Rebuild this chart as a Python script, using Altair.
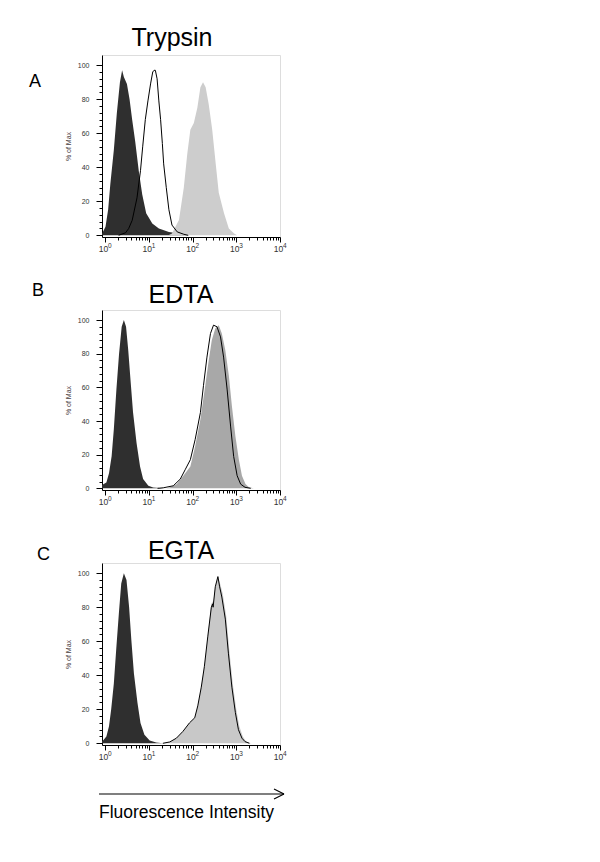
import altair as alt
import pandas as pd

# ---------------- data (x given as log10 decade positions, y = % of Max) ----------------
A_dark_log = [-0.07, -0.05, 0.01, 0.07, 0.12, 0.20, 0.27, 0.34, 0.39, 0.43, 0.50, 0.56, 0.62,
              0.69, 0.77, 0.85, 0.94, 1.08, 1.23, 1.46, 1.69, 1.92]
A_dark_y = [1, 2, 5, 15, 30, 50, 72, 90, 97, 93, 89, 80, 68, 55, 38, 24, 13, 7, 4, 2, 1, 0]

A_open_log = [0.31, 0.47, 0.54, 0.62, 0.73, 0.81, 0.86, 0.92, 0.98, 1.04, 1.09, 1.12, 1.15,
              1.19, 1.23, 1.27, 1.31, 1.34, 1.40, 1.46, 1.53, 1.65, 1.80, 1.90]
A_open_y = [0, 1.5, 4, 8.8, 22, 38, 52, 68, 79, 89, 96, 97, 97, 92, 79, 68, 54, 42, 28, 15, 6, 2, 0.6, 0]

A_light_log = [1.45, 1.53, 1.69, 1.80, 1.88, 1.95, 2.03, 2.11, 2.18, 2.24, 2.30, 2.37, 2.45,
               2.53, 2.60, 2.72, 2.83, 2.95, 3.02]
A_light_y = [0, 1, 9, 28, 48, 62, 66, 75, 87, 90, 87, 77, 62, 42, 25, 13, 4, 1, 0]

B_dark_log = [-0.07, 0.03, 0.09, 0.15, 0.20, 0.26, 0.32, 0.38, 0.43, 0.48, 0.53, 0.58, 0.64,
              0.72, 0.80, 0.87, 0.99, 1.10, 1.33]
B_dark_y = [2, 3.5, 9, 19, 35, 59, 80, 96, 100, 96, 82, 65, 45, 27, 13, 5.5, 1.6, 0.5, 0]

B_grey_log = [1.40, 1.49, 1.64, 1.79, 1.95, 2.06, 2.18, 2.29, 2.37, 2.44, 2.52, 2.60, 2.67,
              2.75, 2.83, 2.90, 2.98, 3.06, 3.13, 3.21, 3.29, 3.40]
B_grey_y = [0, 0.6, 2.5, 7.5, 13, 25, 41, 61, 76, 88, 95, 97, 92, 82, 67, 49, 31, 17, 7.5, 2.5, 0.6, 0]

B_open_log = [1.20, 1.33, 1.56, 1.72, 1.83, 1.95, 2.06, 2.18, 2.25, 2.33, 2.41, 2.48, 2.56,
              2.64, 2.71, 2.79, 2.87, 2.94, 3.02, 3.10, 3.20, 3.33]
B_open_y = [0, 0.3, 1.5, 5.5, 11, 17, 29, 45, 61, 78, 92, 97, 96, 90, 78, 59, 37, 19, 7.5, 2.5, 0.6, 0]

C_dark_log = [-0.07, -0.05, 0.03, 0.09, 0.14, 0.20, 0.26, 0.32, 0.37, 0.43, 0.49, 0.55, 0.60,
              0.66, 0.74, 0.81, 0.90, 1.02, 1.17, 1.32]
C_dark_y = [1.5, 1.5, 4, 10, 20, 35, 57, 78, 94, 100, 96, 80, 61, 41, 24, 12, 5, 1.6, 0.4, 0]

C_grey_log = [1.32, 1.48, 1.63, 1.78, 1.93, 2.05, 2.12, 2.20, 2.27, 2.35, 2.43, 2.48, 2.52,
              2.58, 2.63, 2.69, 2.77, 2.84, 2.92, 3.00, 3.07, 3.15, 3.22, 3.34]
C_grey_y = [0, 0.8, 3, 7, 12, 15, 22, 33, 45, 63, 82, 84, 92, 98, 94, 88, 75, 55, 35, 20, 10, 4, 1.2, 0]

C_open_log = [1.32, 1.48, 1.63, 1.78, 1.93, 2.05, 2.12, 2.20, 2.27, 2.35, 2.43, 2.46, 2.47,
              2.52, 2.58, 2.62, 2.67, 2.75, 2.82, 2.90, 2.98, 3.05, 3.13, 3.20, 3.30]
C_open_y = [0, 0.8, 3, 7, 12, 15, 22, 33, 45, 63, 80, 82, 80, 92, 98, 92, 86, 73, 53, 33, 18, 8, 3, 1, 0]

PANEL_TITLES = ["Trypsin", "EDTA", "EGTA"]
PANEL_LETTERS = ["A", "B", "C"]
X_AXIS_LABEL = "Fluorescence Intensity"
Y_AXIS_LABEL = "% of Max"

X_TICKS = [1, 2, 3, 4, 5, 6, 7, 8, 9,
           10, 20, 30, 40, 50, 60, 70, 80, 90,
           100, 200, 300, 400, 500, 600, 700, 800, 900,
           1000, 2000, 3000, 4000, 5000, 6000, 7000, 8000, 9000, 10000]
DECADES = [1, 10, 100, 1000, 10000]
EXPONENTS = ["0", "1", "2", "3", "4"]
Y_TICKS = [0, 4, 8, 12, 16, 20, 24, 28, 32, 36, 40, 44, 48, 52, 56, 60, 64, 68, 72, 76, 80,
           84, 88, 92, 96, 100]

FONT = "Liberation Sans"
W = 178


def series(logs, ys):
    return pd.DataFrame({"x": [10 ** v for v in logs], "y": ys})


x_major = "datum.value == 1 || datum.value == 10 || datum.value == 100 || datum.value == 1000 || datum.value == 10000"

x_axis = alt.Axis(values=X_TICKS, labelExpr="(" + x_major + ") ? '10' : ''",
                  labelOverlap=False, labelFlush=False, labelOffset=-2,
                  tickSize={"condition": {"test": x_major, "value": 5}, "value": 3},
                  grid=False, title=None, labelFontSize=8.5, labelColor="#333333",
                  labelPadding=2, domainColor="black", tickColor="black")
y_axis = alt.Axis(values=Y_TICKS, labelExpr="datum.value % 20 == 0 ? datum.label : ''",
                  labelOverlap=False, labelFlush=False,
                  tickSize={"condition": {"test": "datum.value % 20 == 0", "value": 6}, "value": 3},
                  grid=False, title=Y_AXIS_LABEL, titleFontSize=7, titleFontWeight="normal",
                  titleColor="#4a3c3c", titlePadding=6, labelFontSize=7, labelColor="#333333",
                  labelPadding=7, domainColor="black", tickColor="black")

x_enc = alt.X("x:Q", scale=alt.Scale(type="log", domain=[0.851, 10000]), axis=x_axis)
y_enc = alt.Y("y:Q", scale=alt.Scale(domain=[-1, 106], nice=False, zero=False), axis=y_axis,
              stack=None)


def area(df, color):
    return alt.Chart(df).mark_area(color=color, clip=True, interpolate="linear",
                                   opacity=1).encode(x=x_enc, y=y_enc, y2=alt.datum(0))


def line(df):
    return alt.Chart(df).mark_line(color="black", strokeWidth=1, clip=True).encode(
        x=x_enc, y=y_enc)


def text_at(t, lx, ly, size, align="left", baseline="middle"):
    return alt.Chart(pd.DataFrame({"t": [t]})).mark_text(
        fontSize=size, font=FONT, align=align, baseline=baseline, color="black").encode(
        text="t:N", x=alt.value(lx), y=alt.value(ly))


def exponents(h):
    df = pd.DataFrame({"x": DECADES, "t": EXPONENTS})
    return alt.Chart(df).mark_text(fontSize=6.5, font=FONT, align="left", baseline="alphabetic",
                                   color="#333333", dx=3).encode(
        x=alt.X("x:Q", scale=alt.Scale(type="log", domain=[0.851, 10000]), axis=x_axis),
        y=alt.value(h + 11), text="t:N")


panel_a = alt.layer(
    area(series(A_dark_log, A_dark_y), "#2f2f2f"),
    area(series(A_light_log, A_light_y), "#cdcdcd"),
    line(series(A_open_log, A_open_y)),
    exponents(182),
    text_at(PANEL_LETTERS[0], -73, 27, 18),
    text_at(PANEL_TITLES[0], 70, -9, 25, align="center", baseline="alphabetic"),
).properties(width=W, height=182)

panel_b = alt.layer(
    area(series(B_dark_log, B_dark_y), "#2f2f2f"),
    area(series(B_grey_log, B_grey_y), "#a8a8a8"),
    line(series(B_open_log, B_open_y)),
    exponents(180),
    text_at(PANEL_LETTERS[1], -70, -19, 18),
    text_at(PANEL_TITLES[1], 79, -7, 25, align="center", baseline="alphabetic"),
).properties(width=W, height=180)

H_C = 182
arrow_y = H_C + 49
arrow = alt.Chart(pd.DataFrame({"k": [0]})).mark_rule(color="black", strokeWidth=1.2).encode(
    x=alt.value(-3), x2=alt.value(182), y=alt.value(arrow_y))
head1 = alt.Chart(pd.DataFrame({"k": [0]})).mark_rule(color="black", strokeWidth=1.2).encode(
    x=alt.value(172), x2=alt.value(182), y=alt.value(arrow_y - 5), y2=alt.value(arrow_y))
head2 = alt.Chart(pd.DataFrame({"k": [0]})).mark_rule(color="black", strokeWidth=1.2).encode(
    x=alt.value(172), x2=alt.value(182), y=alt.value(arrow_y + 5), y2=alt.value(arrow_y))

panel_c = alt.layer(
    area(series(C_dark_log, C_dark_y), "#2f2f2f"),
    area(series(C_grey_log, C_grey_y), "#c8c8c8"),
    line(series(C_open_log, C_open_y)),
    exponents(H_C),
    text_at(PANEL_LETTERS[2], -65, -8, 18),
    text_at(PANEL_TITLES[2], 79, -4, 25, align="center", baseline="alphabetic"),
    arrow, head1, head2,
    text_at(X_AXIS_LABEL, -3, arrow_y + 19, 17.5),
).properties(width=W, height=H_C)

chart = alt.vconcat(panel_a, panel_b, panel_c, spacing=73, bounds="flush").properties(
    padding={"left": 20, "top": 17, "right": 5, "bottom": 5}
).configure_view(stroke="#333333", strokeWidth=1).configure(font=FONT)

chart.save("out.html", embed_options={"renderer": "svg", "actions": False})
